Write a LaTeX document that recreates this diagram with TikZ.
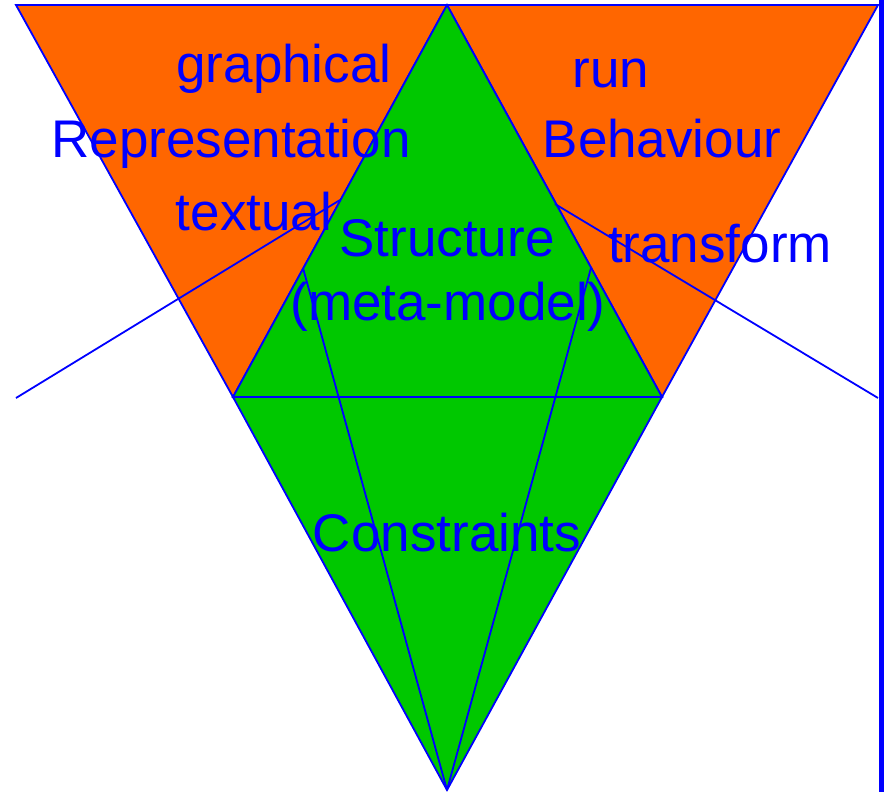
\documentclass[tikz,border=0pt]{standalone}
\usepackage{fontspec}
\setmainfont{Liberation Sans}
\usepackage{tikz}
\definecolor{tgreen}{RGB}{0,200,0}
\definecolor{torange}{RGB}{255,102,0}
\newcommand{\labelfont}{\fontsize{53}{60}\selectfont}
\tikzset{
  part/.style={draw=blue, line width=1.8pt},
  lbl/.style={text=blue, font=\labelfont, inner sep=0pt, anchor=base},
  ray/.style={draw=blue, line width=1.8pt}
}

\begin{document}
\begin{tikzpicture}[x=1pt, y=-1pt]
  \useasboundingbox (0,0) rectangle (885,792);
  % Coordinates
  \coordinate (TL) at (16,5);
  \coordinate (T) at (447,5);
  \coordinate (TR) at (878,5);
  \coordinate (L) at (233,397);
  \coordinate (R) at (662,397);
  \coordinate (B) at (447,790);
  \coordinate (OL) at (16,398);
  \coordinate (OR) at (878,398);
  \coordinate (SL) at (340,200);
  \coordinate (SR) at (555,204);
  \coordinate (PL) at (303,268);
  \coordinate (PR) at (591,268);

  % Faces
  \draw[part, fill=torange] (TL) -- (T) -- (L) -- cycle;
  \draw[part, fill=torange] (T) -- (TR) -- (R) -- cycle;
  \draw[part, fill=tgreen] (T) -- (L) -- (R) -- cycle;
  \draw[part, fill=tgreen] (L) -- (R) -- (B) -- cycle;

  % Labels
  \node[lbl] (graphical) at (284,82) {graphical};
  \node[lbl] (repr) at (231,157) {Representation};
  \node[lbl] (textual) at (254,230) {textual};
  \node[lbl] (run) at (611,87) {run};
  \node[lbl] (behav) at (662,157) {Behaviour};
  \node[lbl] (transform) at (720,262) {transform};
  \node[lbl] (struct) at (447,256) {Structure};
  \node[lbl] (meta) at (448,320) {(meta-model)};
  \node[lbl] (constr) at (447,551) {Constraints};

  % Lines
  \draw[ray] (OL) -- (SL);
  \draw[ray] (SR) -- (OR);
  \draw[ray] (B) -- (PL);
  \draw[ray] (B) -- (PR);
  \draw[blue, line width=5pt] (881.5,0) -- (881.5,792);
\end{tikzpicture}
\end{document}
